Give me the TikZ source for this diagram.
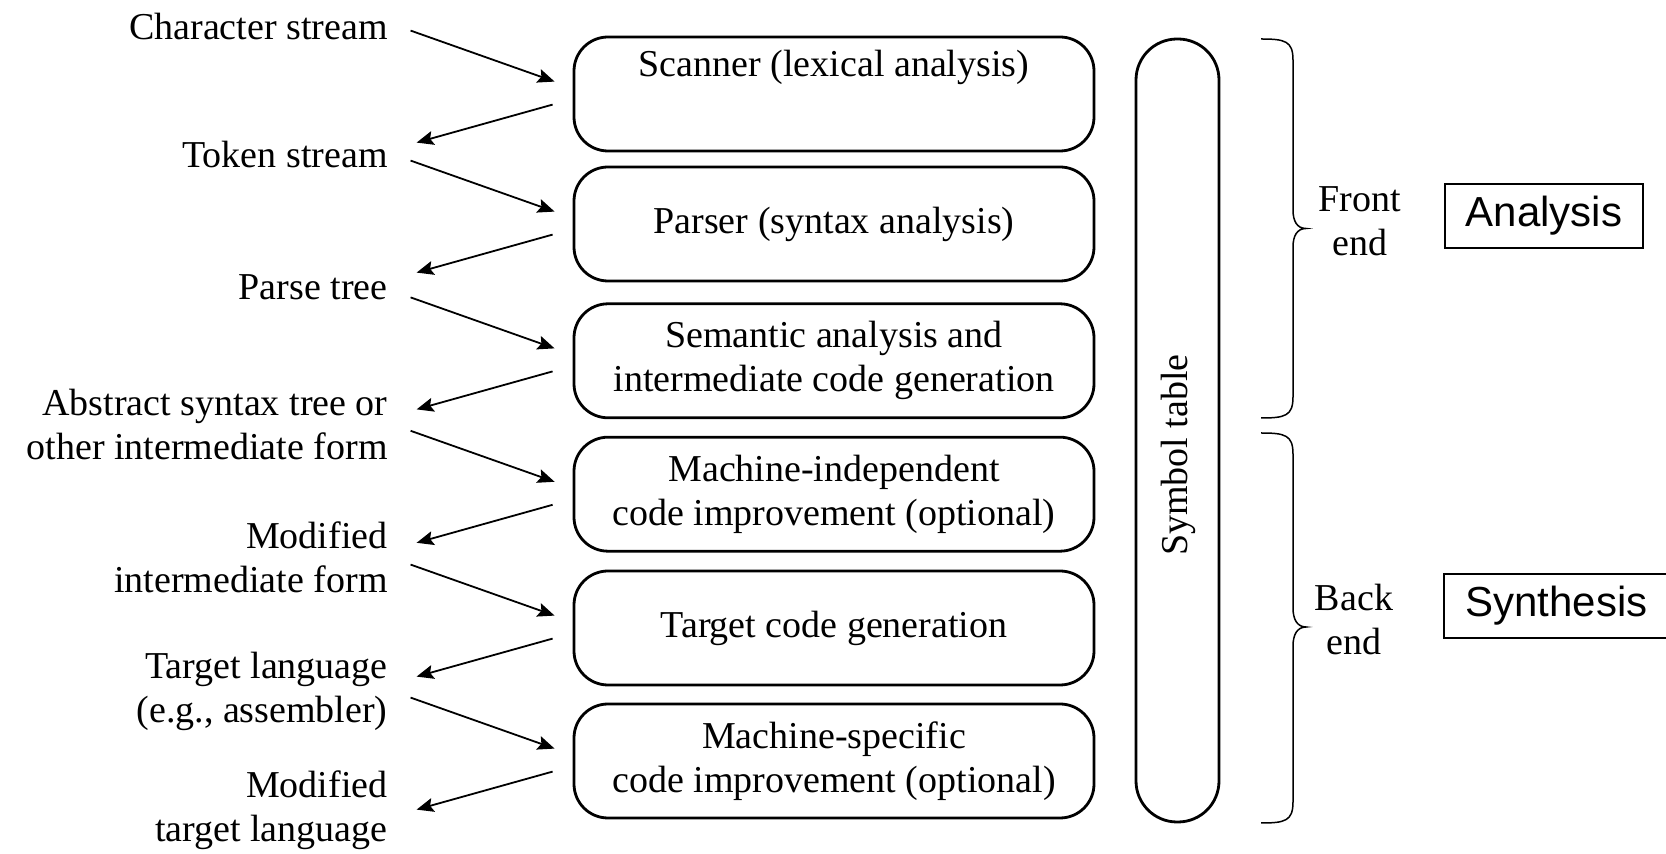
\documentclass[tikz,border=0pt]{standalone}
\usepackage{fontspec}
\setmainfont{Liberation Serif}
\newfontfamily\sansf{Liberation Sans}
\usetikzlibrary{calc,arrows.meta}
\begin{document}
\begin{tikzpicture}[x=0.5pt,y=-0.5pt,
  txt/.style={font=\fontsize{19}{22}\selectfont},
  stage/.style={draw,line width=1.4pt,rounded corners=17pt,minimum width=260pt,minimum height=57pt,inner sep=0pt,align=center,txt},
  lab/.style={anchor=east,align=right,inner sep=0pt,txt},
  arr/.style={line width=0.9pt,-{Stealth[length=8.5pt,width=7pt,inset=1.5pt]}},
  brc/.style={line width=0.75pt},
  side/.style={align=center,inner sep=0pt,txt},
  tag/.style={draw,line width=0.6pt,minimum width=99pt,minimum height=32pt,inner sep=0pt,font=\sansf\fontsize{21}{25}\selectfont}
]
\useasboundingbox (0,0) rectangle (1666,854);

% stages
\node[stage] (b1) at (834,94) {};
\node[txt,inner sep=0pt] (t1) at ($(b1.center)+(0,-27)$) {Scanner (lexical analysis)};
\node[stage] (b2) at (834,224) {Parser (syntax analysis)};
\node[stage] (b3) at (834,360.8) {Semantic analysis and\\intermediate code generation};
\node[stage] (b4) at (834,494.2) {Machine-independent\\code improvement (optional)};
\node[stage] (b5) at (834,628) {Target code generation};
\node[stage] (b6) at (834,761) {Machine-specific\\code improvement (optional)};

% symbol table
\node[draw,line width=1.4pt,rounded corners=20.5pt,minimum width=41.5pt,minimum height=391.5pt,inner sep=0pt] (sym) at (1177.5,430.5) {};
\node[rotate=90,txt,inner sep=0pt] (symt) at (1178,455) {Symbol table};

% left labels
\node[lab] (l0) at (388,27) {Character stream};
\node[lab] (l1) at (388,155) {Token stream};
\node[lab] (l2) at (388,287) {Parse tree};
\node[lab] (l3) at (388,425) {Abstract syntax tree or\\other intermediate form};
\node[lab] (l4) at (388,557) {Modified\\intermediate form};
\node[lab] (l5) at (388,691) {Target language\\(e.g., assembler)};
\node[lab] (l6) at (388,810) {Modified\\target language};

% arrows
\foreach \b in {b1,b2,b3,b4,b5,b6}{
  \draw[arr] ($(\b.north west)+(-162,-5)$) -- ($(\b.north west)+(-18,46)$);
  \draw[arr] ($(\b.north west)+(-20,69)$) -- ($(\b.north west)+(-156,107)$);
}

% braces
\draw[brc] (1261,39) .. controls (1285,39) and (1293,41) .. (1293,60) -- (1293,210)
  .. controls (1293,221) and (1297,228.5) .. (1306,228.5)
  .. controls (1297,228.5) and (1293,236) .. (1293,247) -- (1293,397)
  .. controls (1293,416) and (1285,418) .. (1261,418);
\draw[brc] (1261,433) .. controls (1285,433) and (1293,435) .. (1293,454) -- (1293,608)
  .. controls (1293,619) and (1297,627) .. (1306,627)
  .. controls (1297,627) and (1293,635) .. (1293,646) -- (1293,802)
  .. controls (1293,821) and (1285,823) .. (1261,823);

\node[side] (fe) at (1360,221) {Front\\end};
\node[side] (be) at (1354,620) {Back\\end};

% tags
\node[tag] (ana) at (1544,216) {Analysis};
\node[anchor=west,inner sep=0pt,font=\sansf\fontsize{21}{25}\selectfont] (syn) at (1465,606) {Synthesis};
\draw[line width=0.6pt] (1670,574) -| (1444,638) -- (1670,638);
\end{tikzpicture}
\end{document}
